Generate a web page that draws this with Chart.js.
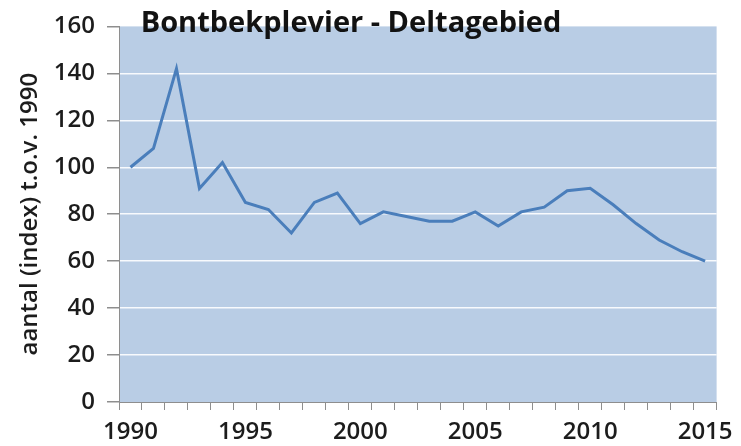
<!DOCTYPE html>
<html>
<head>
<meta charset="utf-8">
<script src="https://cdn.jsdelivr.net/npm/chart.js@4/dist/chart.umd.min.js"></script>
<style>
  html, body { margin: 0; padding: 0; background: #fff; }
  #chart { display: block; }
</style>
</head>
<body>
<canvas id="chart" width="741" height="446"></canvas>
<script>
// data
const years = [1990, 1991, 1992, 1993, 1994, 1995, 1996, 1997, 1998, 1999,
  2000, 2001, 2002, 2003, 2004, 2005, 2006, 2007, 2008, 2009,
  2010, 2011, 2012, 2013, 2014, 2015];
const indexValues = [100, 108, 142, 91, 102, 85, 82, 72, 85, 89,
  76, 81, 79, 77, 77, 81, 75, 81, 83, 90,
  91, 84, 76, 69, 64, 60];
const yTicks = [0, 20, 40, 60, 80, 100, 120, 140, 160];
const chartTitle = "Bontbekplevier - Deltagebied";
const yTitle = "aantal (index) t.o.v. 1990";

const FONT = "'Open Sans', 'DejaVu Sans', sans-serif";
const TEXT_COLOR = "#1c1c1c";
const AXIS_GREY = "#8e8e8e";

// fill plot area + draw title overlapping the top of it
const plotBg = {
  id: "plotBg",
  beforeDraw(chart) {
    const { ctx, chartArea: a } = chart;
    ctx.save();
    ctx.fillStyle = "#b9cde5";
    ctx.fillRect(a.left, a.top, a.right - a.left, a.bottom - a.top);
    ctx.restore();
  },
  afterDraw(chart) {
    const ctx = chart.ctx;
    ctx.save();
    ctx.font = "bold 29px " + FONT;
    ctx.fillStyle = "#121212";
    ctx.textAlign = "center";
    ctx.textBaseline = "alphabetic";
    ctx.fillText(chartTitle, 351, 32);
    ctx.restore();
  },
};

new Chart(document.getElementById("chart"), {
  type: "line",
  data: {
    labels: years,
    datasets: [
      {
        data: indexValues,
        borderColor: "#4a7ebb",
        borderWidth: 3,
        pointRadius: 0,
        tension: 0,
        fill: false,
      },
    ],
  },
  options: {
    responsive: false,
    animation: false,
    layout: { padding: { top: 26, right: 23, left: 0, bottom: 0 } },
    plugins: {
      legend: { display: false },
      tooltip: { enabled: false },
    },
    scales: {
      x: {
        type: "category",
        offset: true,
        grid: {
          display: true,
          offset: true,
          drawOnChartArea: false,
          drawTicks: true,
          tickLength: 8,
          tickColor: AXIS_GREY,
        },
        border: { display: true, color: AXIS_GREY, width: 1 },
        ticks: {
          autoSkip: false,
          maxRotation: 0,
          padding: 8,
          color: TEXT_COLOR,
          font: { family: FONT, size: 24, weight: "600" },
          callback: function (val, i) {
            const y = years[i];
            return y % 5 === 0 ? String(y) : "";
          },
        },
        afterFit(scale) {
          scale.height = 44;
        },
      },
      y: {
        min: yTicks[0],
        max: yTicks[yTicks.length - 1],
        afterBuildTicks(scale) {
          scale.ticks = yTicks.map((v) => ({ value: v }));
        },
        grid: {
          color: (c) =>
            c.tick && (c.tick.value === 0 || c.tick.value === 160)
              ? "rgba(0,0,0,0)"
              : "rgba(255,255,255,0.9)",
          lineWidth: 1.5,
          tickLength: 12,
          tickColor: AXIS_GREY,
        },
        border: { display: true, color: AXIS_GREY, width: 1 },
        ticks: {
          padding: 12,
          color: TEXT_COLOR,
          font: { family: FONT, size: 24, weight: "600" },
        },
        title: {
          display: true,
          text: yTitle,
          color: TEXT_COLOR,
          padding: { top: 16, bottom: 0 },
          font: { family: FONT, size: 24, weight: "600" },
        },
        afterFit(scale) {
          scale.width = 119;
        },
      },
    },
  },
  plugins: [plotBg],
});
</script>
</body>
</html>
